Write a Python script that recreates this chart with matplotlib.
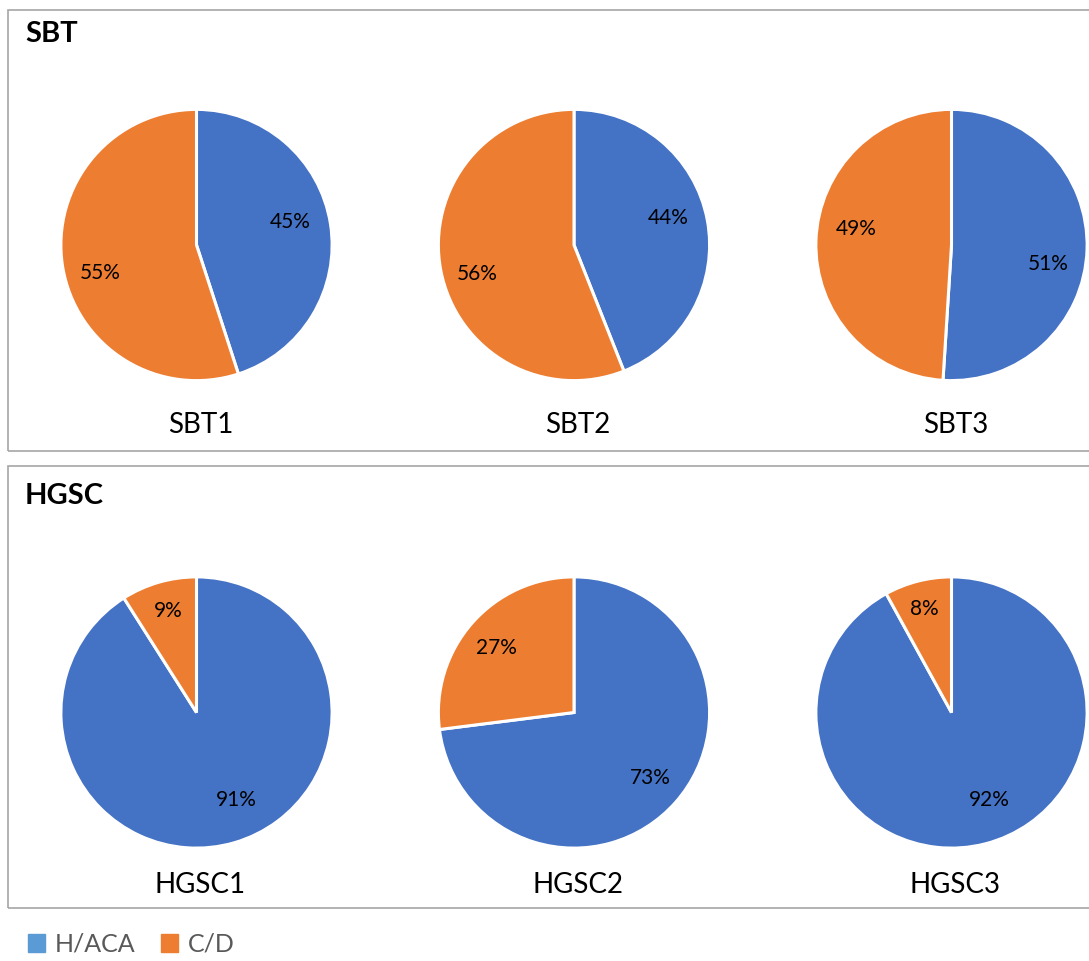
import matplotlib.pyplot as plt
from matplotlib.patches import Rectangle

plt.rcParams['font.family'] = ['Lato', 'DejaVu Sans']

# Share of each snoRNA class per sample (%)
groups = ['SBT', 'HGSC']
samples = [['SBT1', 'SBT2', 'SBT3'], ['HGSC1', 'HGSC2', 'HGSC3']]
haca = [[45, 44, 51], [91, 73, 92]]
cd = [[55, 56, 49], [9, 27, 8]]
classes = ['H/ACA', 'C/D']

# where the percent labels sit, in units of pie radius (H/ACA, C/D)
label_pos = [
    [[(0.70, 0.17), (-0.72, -0.21)],
     [(0.70, 0.20), (-0.72, -0.22)],
     [(0.72, -0.14), (-0.71, 0.12)]],
    [[(0.30, -0.65), (-0.21, 0.76)],
     [(0.57, -0.49), (-0.58, 0.48)],
     [(0.28, -0.65), (-0.20, 0.77)]],
]

BLUE = '#4472C4'
ORANGE = '#ED7D31'
W, H = 1089, 961

fig = plt.figure(figsize=(W / 100, H / 100), dpi=100)

def fx(px):
    return px / W

def fy(py):
    return 1 - py / H

# panel frames in pixels: top, bottom, title y, sample label y, pie centre y
panels = [(10, 451, 34, 425, 245), (466, 908, 496, 885, 712.5)]
centers_x = [196.5, 574, 951.5]
R = 134

for g, (top, bot, ty, ly, cy) in enumerate(panels):
    fig.patches.append(Rectangle((fx(7.5), fy(bot)), fx(1100 - 7.5), (bot - top) / H,
                                 transform=fig.transFigure, fill=False,
                                 edgecolor='#A6A6A6', linewidth=1.2))
    fig.text(fx(25), fy(ty), groups[g], fontsize=21, fontweight='bold',
             va='center', ha='left')
    for i in range(3):
        cx = centers_x[i]
        ax = fig.add_axes([fx(cx - R), fy(cy + R), 2 * R / W, 2 * R / H])
        vals = [haca[g][i], cd[g][i]]
        wedges, texts, autotexts = ax.pie(
            vals, colors=[BLUE, ORANGE], startangle=90, counterclock=False,
            radius=1.012, autopct='%d%%',
            wedgeprops=dict(edgecolor='white', linewidth=2.2),
            textprops=dict(fontsize=15, color='black'))
        for t, pos in zip(autotexts, label_pos[g][i]):
            t.set_position(pos)
        ax.set_xlim(-1, 1)
        ax.set_ylim(-1, 1)
        ax.axis('off')
        fig.text(fx(cx + 4), fy(ly), samples[g][i], fontsize=20,
                 ha='center', va='center')

# legend
handles = [Rectangle((0, 0), 1, 1, color=c) for c in ['#5B9BD5', ORANGE]]
fig.legend(handles, classes, loc='center left', bbox_to_anchor=(fx(5), fy(944)),
           ncol=2, frameon=False, fontsize=18, handlelength=0.7, handleheight=0.7,
           handletextpad=0.4, columnspacing=1.0, labelcolor='#595959')

fig.savefig('out.png', dpi=100)
